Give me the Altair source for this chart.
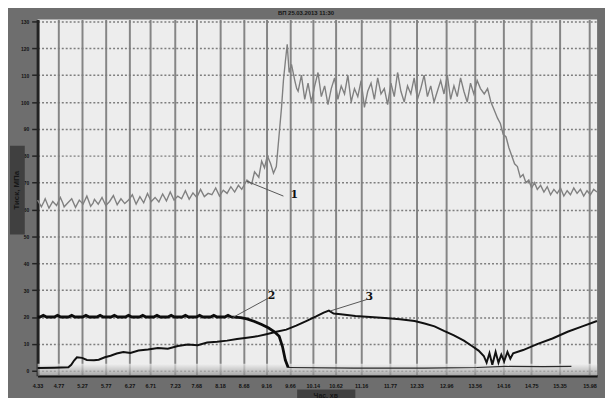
import altair as alt
import pandas as pd

# ---------------- data ----------------
x_ticks = [4.33, 4.77, 5.27, 5.77, 6.27, 6.71, 7.23, 7.68, 8.18, 8.68, 9.16, 9.66,
           10.14, 10.62, 11.16, 11.77, 12.33, 12.96, 13.56, 14.16, 14.75, 15.35, 15.98]
y_ticks = [0, 10, 20, 30, 40, 50, 60, 70, 80, 90, 100, 110, 120, 130]

# curve 1 (grey, noisy)
s1 = [
    (4.33, 63.5), (4.41, 61.0), (4.46, 62.8), (4.49, 64.0), (4.57, 60.5), (4.65, 63.0), (4.73, 61.5),
    (4.81, 64.5), (4.86, 62.5), (4.89, 61.0), (4.97, 62.5), (5.05, 64.0), (5.13, 60.8), (5.21, 63.5),
    (5.29, 62.0), (5.37, 65.0), (5.45, 61.2), (5.50, 62.4), (5.53, 63.8), (5.61, 62.0), (5.69, 64.5),
    (5.77, 61.5), (5.85, 63.0), (5.93, 65.2), (6.01, 61.8), (6.09, 64.0), (6.17, 62.2),
    (6.25, 63.5), (6.33, 65.5), (6.41, 62.0), (6.49, 64.8), (6.57, 62.5), (6.65, 66.0),
    (6.73, 63.0), (6.81, 64.5), (6.89, 62.8), (6.97, 65.8), (7.05, 63.2), (7.13, 66.5),
    (7.21, 63.5), (7.29, 65.0), (7.37, 64.0), (7.45, 67.0), (7.53, 63.8), (7.61, 66.2),
    (7.69, 64.5), (7.77, 67.5), (7.85, 64.8), (7.93, 66.0), (8.01, 65.5), (8.09, 68.0),
    (8.17, 65.0), (8.25, 67.2), (8.33, 66.0), (8.41, 68.5), (8.49, 66.5),
    (8.57, 69.0), (8.64, 67.5), (8.75, 71.0), (8.85, 69.5), (8.91, 74.0), (9.00, 72.0),
    (9.06, 78.0), (9.12, 75.5), (9.18, 80.0), (9.25, 77.0), (9.31, 73.5), (9.37, 76.0),
    (9.43, 88.0), (9.48, 98.0), (9.52, 108.0), (9.56, 115.0), (9.60, 121.5), (9.64, 111.0),
    (9.69, 114.0),
    (9.76, 108), (9.80, 105), (9.83, 104), (9.90, 110), (9.97, 101), (10.04, 107), (10.11, 100),
    (10.18, 106), (10.25, 111), (10.32, 102), (10.39, 106), (10.46, 99), (10.53, 105),
    (10.60, 109), (10.67, 101), (10.74, 106), (10.81, 103), (10.88, 110), (10.95, 100),
    (11.02, 105), (11.09, 102), (11.16, 108), (11.23, 98), (11.30, 104), (11.37, 107),
    (11.44, 101), (11.51, 109), (11.58, 103), (11.65, 105), (11.72, 99), (11.79, 107),
    (11.86, 102), (11.93, 111), (12.00, 104), (12.07, 100), (12.14, 106), (12.21, 103),
    (12.28, 109), (12.35, 101), (12.42, 105), (12.49, 110), (12.56, 102), (12.63, 106),
    (12.70, 100), (12.77, 104), (12.84, 108), (12.91, 103), (12.98, 110), (13.05, 101),
    (13.12, 106), (13.19, 102), (13.26, 109), (13.33, 104), (13.40, 100), (13.47, 107),
    (13.54, 103), (13.61, 108), (13.68, 105),
    (13.76, 103), (13.83, 105), (13.90, 100), (13.97, 97), (14.04, 94), (14.10, 92),
    (14.16, 88), (14.22, 87), (14.28, 83), (14.34, 80), (14.40, 77), (14.46, 76),
    (14.52, 72), (14.58, 73), (14.64, 70), (14.70, 71), (14.76, 68), (14.82, 70),
    (14.88, 67.5), (14.95, 69), (15.02, 66.5), (15.09, 68.5), (15.16, 65.5), (15.23, 67.5),
    (15.30, 66), (15.37, 68), (15.44, 65), (15.51, 67), (15.58, 65.5), (15.65, 68),
    (15.72, 66), (15.79, 67.5), (15.86, 65), (15.93, 67), (16.00, 65.5), (16.07, 67.5),
    (16.14, 66.5),
]

# curve 2 (thick black, small bumps on the plateau, then drop)
s2 = [
    (4.33, 20.0), (4.38, 20.0), (4.45, 20.6), (4.52, 20.0), (4.68, 20.0), (4.75, 20.6),
    (4.82, 20.0), (4.98, 20.0), (5.05, 20.6), (5.12, 20.0), (5.28, 20.0), (5.35, 20.6),
    (5.42, 20.0), (5.58, 20.0), (5.65, 20.6), (5.72, 20.0), (5.88, 20.0), (5.95, 20.6),
    (6.02, 20.0), (6.18, 20.0), (6.25, 20.6), (6.32, 20.0), (6.48, 20.0), (6.55, 20.6),
    (6.62, 20.0), (6.78, 20.0), (6.85, 20.6), (6.92, 20.0), (7.08, 20.0), (7.15, 20.6),
    (7.22, 20.0), (7.38, 20.0), (7.45, 20.6), (7.52, 20.0), (7.68, 20.0), (7.75, 20.6),
    (7.82, 20.0), (7.98, 20.0), (8.05, 20.6), (8.12, 20.0), (8.28, 20.0), (8.35, 20.6),
    (8.42, 20.0), (8.55, 19.9),
    (8.62, 19.8), (8.75, 19.3), (8.91, 18.3), (9.06, 17.2), (9.20, 16.0), (9.33, 14.5),
    (9.43, 12.8), (9.50, 9.0), (9.56, 4.0), (9.62, 1.2),
]
s2_tail = [(9.62, 1.2), (11.0, 1.0), (12.5, 1.0), (13.6, 1.2), (14.2, 1.6), (15.0, 1.5), (15.6, 1.6)]

# curve 3 (black)
s3 = [
    (4.33, 1.0), (4.68, 1.1), (4.98, 1.3), (5.04, 2.2), (5.10, 3.8), (5.16, 5.0),
    (5.27, 4.8), (5.37, 4.0), (5.52, 3.9), (5.62, 4.1), (5.75, 5.0), (5.87, 5.6),
    (6.00, 6.4), (6.14, 7.0), (6.29, 6.6), (6.46, 7.5), (6.66, 7.9), (6.87, 8.5),
    (7.08, 8.2), (7.29, 9.2), (7.50, 9.8), (7.71, 9.5), (7.91, 10.5), (8.12, 10.8),
    (8.33, 11.2), (8.54, 11.8), (8.75, 12.3), (8.96, 12.8), (9.16, 13.6), (9.37, 14.5),
    (9.58, 15.3), (9.79, 16.8), (10.00, 18.5), (10.21, 20.2), (10.37, 21.6), (10.48, 22.4),
    (10.58, 21.3), (10.73, 21.0), (11.04, 20.4), (11.35, 20.0), (11.66, 19.6), (11.98, 19.2),
    (12.29, 18.5), (12.50, 17.6), (12.71, 16.5), (12.91, 14.8), (13.12, 13.2), (13.33, 11.2),
    (13.50, 9.2), (13.64, 7.5), (13.75, 5.5),
    (13.81, 3.0), (13.87, 6.5), (13.93, 2.2), (14.00, 7.0), (14.06, 3.0), (14.12, 6.0),
    (14.18, 3.5), (14.25, 7.0), (14.31, 4.5), (14.37, 6.5),
    (14.58, 7.7), (14.89, 10.0), (15.20, 12.0), (15.52, 14.5), (15.83, 16.5), (16.14, 18.5),
]

label_names = ["1", "2", "3"]
label_t = [9.75, 9.27, 11.33]
label_v = [65.4, 27.9, 27.5]
leader_t1 = [9.52, 9.20, 11.28]
leader_v1 = [65.0, 27.0, 26.5]
leader_t2 = [8.75, 8.45, 10.52]
leader_v2 = [70.5, 19.8, 22.3]

title_text = "ВП   25.03.2013 11:30"
y_title = "Тиск, МПа"
x_title = "Час, хв"

# ---------------- chart ----------------
W, H = 567, 361
frame = "#6e6e6e"

xs = alt.Scale(domain=[4.33, 16.1425], nice=False, zero=False)
ys = alt.Scale(domain=[-1.84, 130.73], nice=False, zero=False)


def df(pairs):
    return pd.DataFrame(pairs, columns=["t", "v"])


x_axis = alt.Axis(values=x_ticks, format=".2f", title=None, grid=True, gridColor="#858585",
                  gridWidth=2, domainColor="#111111", domainWidth=2.5, tickSize=0,
                  labelFont="Liberation Sans", labelFontSize=5.5, labelFontWeight="bold",
                  labelColor="#111111", labelPadding=8, labelOverlap=False, labelFlush=False)
y_axis = alt.Axis(values=y_ticks, format="d", title=None, grid=True, gridColor="#7e7e7e",
                  gridWidth=1.5, gridDash=[2, 2], domainColor="#222222", domainWidth=3,
                  tickColor="#222222", tickSize=6, tickWidth=1.5,
                  labelFont="Liberation Sans", labelFontSize=5, labelFontWeight="bold",
                  labelColor="#111111", labelPadding=3)


def line(data, color, width):
    return alt.Chart(df(data)).mark_line(color=color, strokeWidth=width).encode(
        x=alt.X("t:Q", scale=xs, axis=x_axis),
        y=alt.Y("v:Q", scale=ys, axis=y_axis),
        order="t:Q",
    )


one = pd.DataFrame({"a": [0]})
grad = alt.Gradient(gradient="linear",
                    stops=[alt.GradientStop(color="#f0f0f0", offset=0),
                           alt.GradientStop(color="#8a8a8a", offset=1)],
                    x1=0, x2=0, y1=0, y2=1)
band = alt.Chart(one).mark_rect(color=grad, opacity=0.7).encode(
    x=alt.value(0), x2=alt.value(W), y=alt.value(349), y2=alt.value(H))

lab_df = pd.DataFrame({"name": label_names, "t": label_t, "v": label_v})
lead_df = pd.DataFrame({"t1": leader_t1, "v1": leader_v1, "t2": leader_t2, "v2": leader_v2})

leaders = alt.Chart(lead_df).mark_rule(color="#555555", strokeWidth=1).encode(
    x=alt.X("t1:Q", scale=xs, axis=x_axis), y=alt.Y("v1:Q", scale=ys, axis=y_axis),
    x2="t2:Q", y2="v2:Q")
labels = alt.Chart(lab_df).mark_text(font="DejaVu Serif", fontSize=11, fontWeight="bold",
                                     color="#111111").encode(
    x=alt.X("t:Q", scale=xs, axis=x_axis), y=alt.Y("v:Q", scale=ys, axis=y_axis), text="name:N")

ybox = alt.Chart(one).mark_rect(color="#404040").encode(
    x=alt.value(-28), x2=alt.value(-13), y=alt.value(128), y2=alt.value(218))
ytxt = alt.Chart(one).mark_text(angle=270, font="Liberation Sans", fontSize=8,
                                fontWeight="bold", color="#161616").encode(
    x=alt.value(-20.5), y=alt.value(173), text=alt.value(y_title))
xbox = alt.Chart(one).mark_rect(color="#404040").encode(
    x=alt.value(263), x2=alt.value(322), y=alt.value(375), y2=alt.value(392))
xtxt = alt.Chart(one).mark_text(font="Liberation Sans", fontSize=7, fontWeight="bold",
                                color="#161616").encode(
    x=alt.value(292), y=alt.value(382), text=alt.value(x_title))
ttxt = alt.Chart(one).mark_text(font="Liberation Sans", fontSize=6, fontWeight="bold",
                                color="#151515").encode(
    x=alt.value(272), y=alt.value(-7), text=alt.value(title_text))

chart = alt.layer(
    line(s1, "#808080", 1.4), band, line(s2_tail, "#2a2a2a", 1.2), line(s3, "#111111", 2.0),
    line(s2, "#0d0d0d", 2.8), leaders, labels, ybox, ytxt, xbox, xtxt, ttxt,
).properties(
    width=W, height=H,
    autosize=alt.AutoSizeParams(type="none"),
    padding={"left": 30, "top": 9, "right": 8, "bottom": 20},
).configure(background=frame).configure_view(fill="#ededed", strokeWidth=0)

chart.save("out.html", embed_options={"renderer": "svg", "actions": False})
